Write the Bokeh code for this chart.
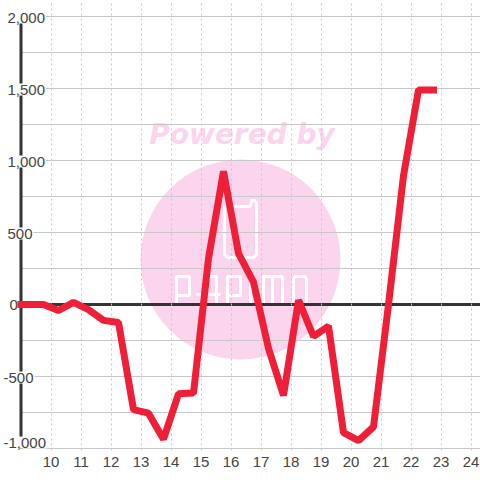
from bokeh.plotting import figure
from bokeh.models import ColumnDataSource, Range1d, FixedTicker
from bokeh.core.properties import value
from bokeh.embed import file_html
from bokeh.resources import INLINE

hours = [9.0, 9.25, 9.75, 10.25, 10.75, 11.25, 11.75, 12.25, 12.75, 13.25, 13.75, 14.25, 14.75, 15.25,
         15.75, 16.25, 16.75, 17.25, 17.75, 18.25, 18.75, 19.25, 19.75, 20.25, 20.75, 21.25, 21.75,
         22.25, 22.75]
values = [0, 0, 0, -42, 15, -35, -110, -125, -730, -755, -935, -620, -615, 320,
          925, 355, 155, -305, -632, 30, -222, -150, -890, -945, -850, 0, 895,
          1490, 1490]
x_ticks = list(range(10, 25))
y_major = [2000, 1500, 1000, 500, 0, -500, -1000]
y_labels = ["2,000", "1,500", "1,000", "500", "0", "-500", "-1,000"]
y_label_left = [6, 6, 6, 6, 8, 2, 2]
y_label_dy = [1, 1, 1, 1, 0, 1, -6]
y_minor = [1750, 1250, 750, 250, -250, -750]

X0 = 10 - 50.5 / 30
X1 = X0 + 16
Y_PER_PX = 1 / 0.144
def xd(px): return X0 + px / 30
def yd(px): return (304 - px) * Y_PER_PX

p = figure(width=480, height=480, output_backend="svg", toolbar_location=None,
           x_range=Range1d(X0, X1), y_range=Range1d(-146 * Y_PER_PX, 304 * Y_PER_PX),
           min_border=0, min_border_left=0, min_border_right=0, min_border_top=0, min_border_bottom=30,
           y_axis_location=None, outline_line_color=None)

p.xaxis.ticker = FixedTicker(ticks=x_ticks)
p.xaxis.axis_line_color = None
p.xaxis.major_tick_line_color = None
p.xaxis.minor_tick_line_color = None
p.xaxis.major_label_text_font = "Liberation Sans"
p.xaxis.major_label_text_font_size = "15px"
p.xaxis.major_label_text_color = "#444444"
p.xaxis.major_label_standoff = 0
p.xgrid.ticker = FixedTicker(ticks=x_ticks)
p.xgrid.bounds = (-1000, 2000)
p.xgrid.grid_line_color = "#c8c8c8"
p.xgrid.grid_line_dash = "2 3"
p.xgrid.grid_line_width = 1
p.ygrid.visible = False

grid_levels = y_major + y_minor
p.segment([9.0] * len(grid_levels), grid_levels, [X1] * len(grid_levels), grid_levels,
          line_color="#c8c8c8", line_width=1, level="underlay")

# watermark
p.scatter([xd(240)], [yd(259)], size=200, marker="circle", fill_color="#fbd5ee", line_color=None, level="image")
p.text([xd(241.5)], [yd(134)], text=["Powered by"], text_font=value("DejaVu Sans"), text_font_style="bold italic",
       text_font_size="28px", text_color="#fbd5ee", text_align="center", text_baseline="middle", level="image")
logo = [
    [(224, 205), (224, 254), (227, 257), (253, 257), (256, 254), (256, 202), (254, 200), (251, 200), (250, 206), (232, 206)],
    [(176, 305), (176, 276), (189, 276), (189, 295), (176, 295)],
    [(199, 305), (208, 276), (216, 276), (216, 305)], [(196, 294), (220, 294)],
    [(227, 305), (227, 276), (240, 276), (240, 295), (227, 295)],
    [(250, 276), (250, 305)],
    [(263, 305), (263, 276), (282, 276), (282, 305)], [(272, 276), (272, 305)],
    [(293, 278), (293, 303), (295, 305), (304, 305), (306, 303), (306, 278), (304, 276), (295, 276), (293, 278)],
]
p.multi_line([[xd(a) for a, _ in s] for s in logo], [[yd(b) for _, b in s] for s in logo],
             line_color="#ffffff", line_width=3, level="image")

# left axis and zero line
p.line([9.0, 9.0], [-1000, 2000], line_color="#333333", line_width=3, level="underlay")
p.line([9.0, X1], [0, 0], line_color="#333333", line_width=3, level="underlay")

src = ColumnDataSource(dict(x=[xd(a) for a in y_label_left], y=y_major, t=y_labels, dy=y_label_dy))
p.text("x", "y", text="t", source=src, text_font=value("Liberation Sans"), text_font_size="15px",
       text_color="#444444", text_align="left", text_baseline="middle", y_offset="dy",
       background_fill_color="#ffffff", padding=1, level="underlay")

p.line(hours, values, line_color="#f01f38", line_width=7, line_cap="square", line_join="bevel")

open("out.html", "w").write(file_html(p, INLINE))
